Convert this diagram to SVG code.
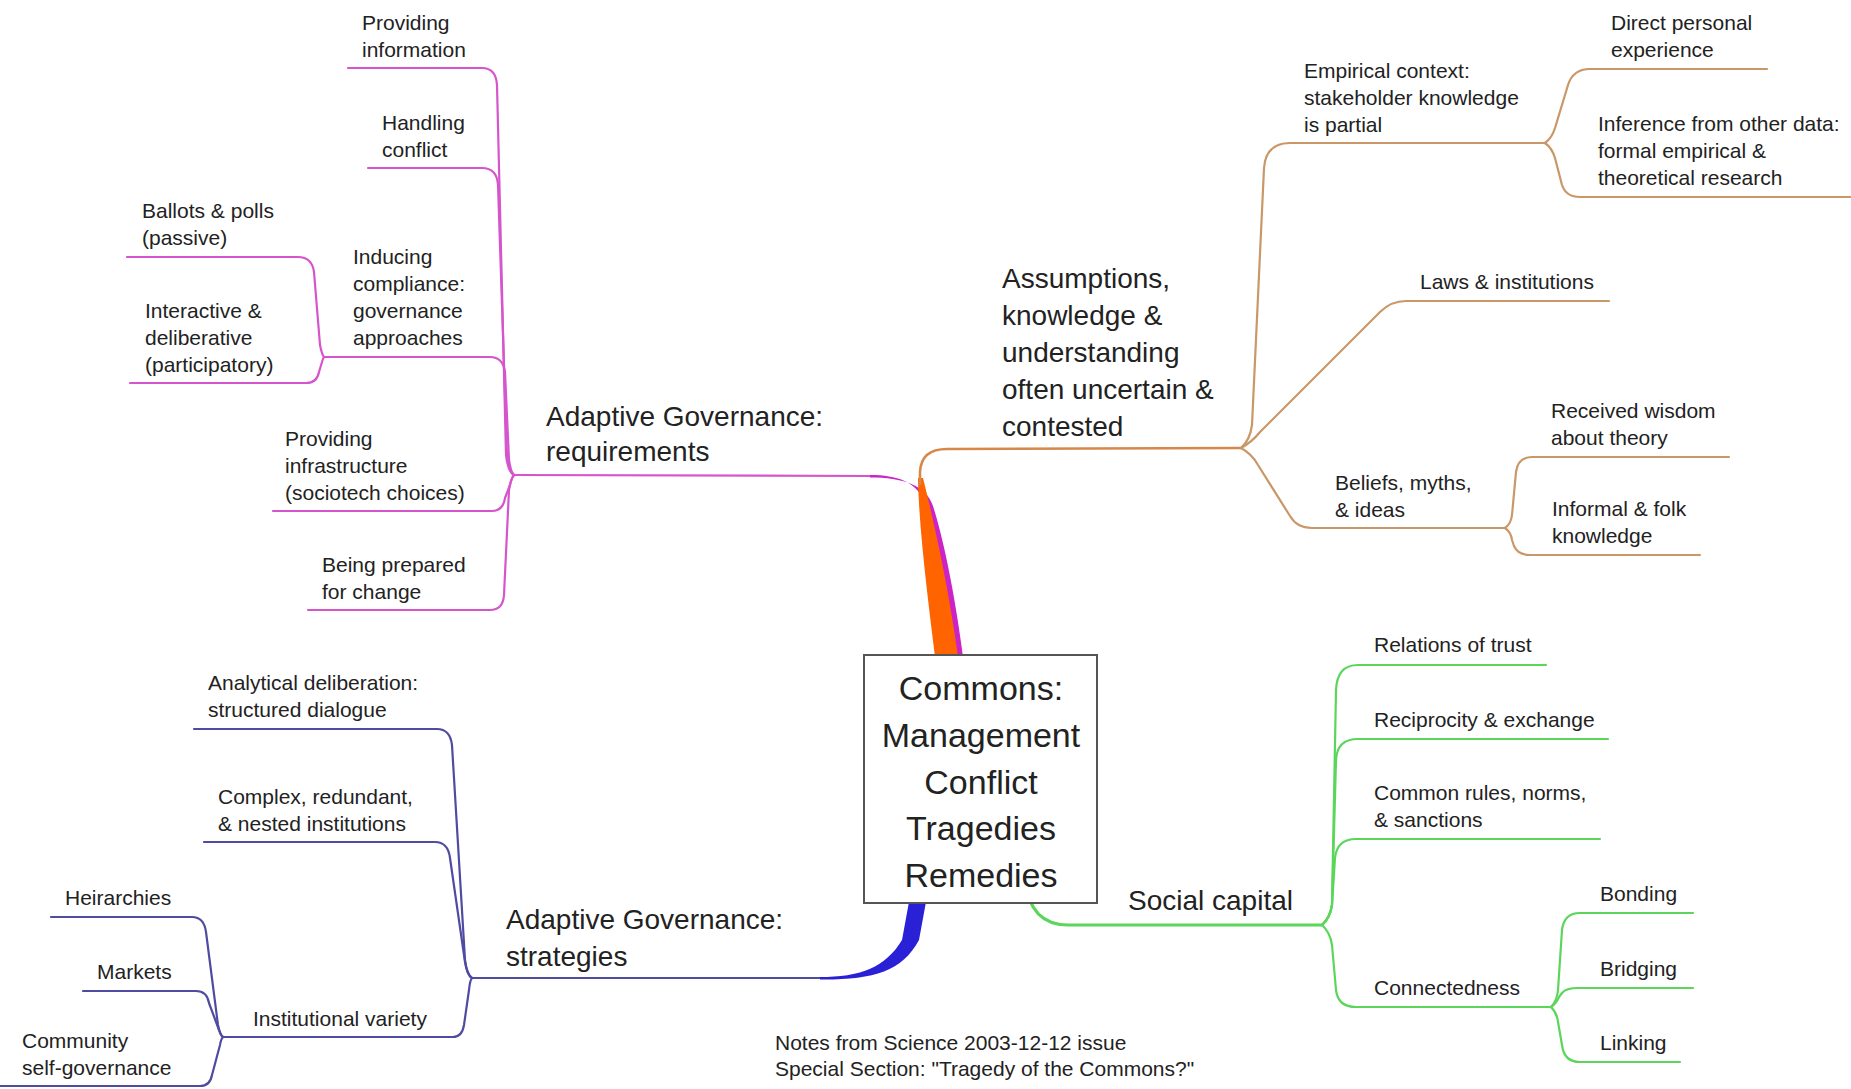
<svg xmlns="http://www.w3.org/2000/svg" width="1851" height="1089" viewBox="0 0 1851 1089">
<style>
text{font-family:"Liberation Sans",Arial,Helvetica,sans-serif;fill:#222}
.t{font-size:21px}
.big{font-size:28px}
.ctr{font-size:34px;text-anchor:middle}
.c{fill:none;stroke-width:2.2;stroke-linecap:round;stroke-linejoin:round}
.cm{stroke:#d655cc}
.co{stroke:#c99768}
.cg{stroke:#5bd65b}
.cb{stroke:#4f4ba0}
</style>
<rect width="1851" height="1089" fill="#ffffff"/>
<g id="connectors">
  <!-- magenta: requirements -->
  <path class="c cm" d="M514 475 L872 476"/>
  <path class="c cm" d="M348 68 H482 Q496 68 497 85 L506 455 Q508 472 514 475"/>
  <path class="c cm" d="M368 168 H482 Q497 168 498 185 L507 455 Q509 472 514 475"/>
  <path class="c cm" d="M324 357 H490 Q503 357 505 372 L509 460 Q511 473 514 475"/>
  <path class="c cm" d="M273 511 H492 Q503 511 505 498 L510 485 Q512 477 514 475"/>
  <path class="c cm" d="M308 610 H490 Q503 610 504 595 L509 490 Q511 478 514 475"/>
  <path class="c cm" d="M127 257 H298 Q312 257 314 272 L320 345 Q322 355 324 357"/>
  <path class="c cm" d="M130 383 H306 Q317 383 319 372 L322 362 Q323 358 324 357"/>
  <path fill="#cc22c8" d="M870 475 C898 475 915 482 924 500 L945 680 L966 680 C959 620 947 550 933 506 C926 485 903 477.5 870 477.5 Z"/>
  <!-- orange: assumptions -->
  <path fill="#ff6400" d="M918 478 C919 530 928 600 938 680 L961 680 C954 620 941 550 923 478 Z"/>
  <path class="c co" d="M920 484 L920 472 Q921 449 947 449 L1241 448" style="stroke:#d6884a;stroke-width:2.6"/>
  <path class="c co" d="M1241 448 Q1250 440 1252 425 L1264 168 Q1266 143 1290 143 H1545"/>
  <path class="c co" d="M1241 448 Q1252 442 1260 432 L1380 312 Q1391 301 1406 301 H1609"/>
  <path class="c co" d="M1241 448 Q1252 454 1258 465 L1290 516 Q1297 528 1312 528 H1505"/>
  <path class="c co" d="M1545 143 Q1552 138 1555 128 L1568 85 Q1573 69 1590 69 H1767"/>
  <path class="c co" d="M1545 143 Q1552 148 1555 158 L1562 185 Q1566 197 1580 197 H1851"/>
  <path class="c co" d="M1505 528 Q1511 524 1512 515 L1516 472 Q1518 457 1532 457 H1729"/>
  <path class="c co" d="M1505 528 Q1511 532 1512 540 L1514 546 Q1518 555 1530 555 H1700"/>
  <!-- green: social capital -->
  <path class="c cg" d="M1025 880 Q1030 925 1068 925 H1322" style="stroke-width:3"/>
  <path class="c cg" d="M1322 925 Q1330 918 1332 905 L1336 690 Q1337 665 1358 665 H1546"/>
  <path class="c cg" d="M1322 925 Q1330 918 1332 905 L1336 760 Q1337 739 1358 739 H1608"/>
  <path class="c cg" d="M1322 925 Q1330 918 1332 905 L1335 858 Q1337 839 1356 839 H1600"/>
  <path class="c cg" d="M1322 925 Q1330 932 1332 945 L1336 990 Q1338 1007 1356 1007 H1551"/>
  <path class="c cg" d="M1551 1007 Q1557 1001 1558 990 L1562 930 Q1564 913 1580 913 H1693"/>
  <path class="c cg" d="M1551 1007 Q1557 1003 1559 997 L1562 993 Q1566 988 1578 988 H1693"/>
  <path class="c cg" d="M1551 1007 Q1557 1013 1558 1022 L1562 1045 Q1564 1062 1580 1062 H1680"/>
  <!-- blue: strategies -->
  <path class="c cb" d="M472 978 H835"/>
  <path fill="#2a20d6" d="M820 977 C860 977 885 968 902 940 L913 880 L930 880 L919 940 C902 972 872 980 820 979.5 Z"/>
  <path class="c cb" d="M194 729 H437 Q450 729 452 745 L465 960 Q467 975 472 978"/>
  <path class="c cb" d="M204 842 H435 Q448 842 450 858 L465 962 Q467 975 472 978"/>
  <path class="c cb" d="M223 1037 H453 Q462 1037 464 1025 L469 990 Q470 980 472 978"/>
  <path class="c cb" d="M51 917 H192 Q204 917 206 932 L218 1025 Q220 1035 223 1037"/>
  <path class="c cb" d="M83 991 H196 Q207 991 209 1003 L219 1030 Q221 1036 223 1037"/>
  <path class="c cb" d="M0 1086 H200 Q210 1086 212 1075 L220 1045 Q221 1039 223 1037"/>
</g>
<g id="center">
  <rect x="864" y="655" width="233" height="248" fill="#ffffff" stroke="#555" stroke-width="2"/>
  <text class="ctr" x="981" y="700">Commons:</text>
  <text class="ctr" x="981" y="747">Management</text>
  <text class="ctr" x="981" y="794">Conflict</text>
  <text class="ctr" x="981" y="840">Tragedies</text>
  <text class="ctr" x="981" y="887">Remedies</text>
</g>
<g id="requirements"><text class="big" x="546" y="426">Adaptive Governance:</text><text class="big" x="546" y="461">requirements</text></g>
<g id="prov-info"><text class="t" x="362" y="30">Providing</text><text class="t" x="362" y="57">information</text></g>
<g id="handling"><text class="t" x="382" y="130">Handling</text><text class="t" x="382" y="157">conflict</text></g>
<g id="inducing"><text class="t" x="353" y="264">Inducing</text><text class="t" x="353" y="291">compliance:</text><text class="t" x="353" y="318">governance</text><text class="t" x="353" y="345">approaches</text></g>
<g id="ballots"><text class="t" x="142" y="218">Ballots &amp; polls</text><text class="t" x="142" y="245">(passive)</text></g>
<g id="interactive"><text class="t" x="145" y="318">Interactive &amp;</text><text class="t" x="145" y="345">deliberative</text><text class="t" x="145" y="372">(participatory)</text></g>
<g id="infrastructure"><text class="t" x="285" y="446">Providing</text><text class="t" x="285" y="473">infrastructure</text><text class="t" x="285" y="500">(sociotech choices)</text></g>
<g id="prepared"><text class="t" x="322" y="572">Being prepared</text><text class="t" x="322" y="599">for change</text></g>
<g id="strategies"><text class="big" x="506" y="929">Adaptive Governance:</text><text class="big" x="506" y="966">strategies</text></g>
<g id="analytical"><text class="t" x="208" y="690">Analytical deliberation:</text><text class="t" x="208" y="717">structured dialogue</text></g>
<g id="complex"><text class="t" x="218" y="804">Complex, redundant,</text><text class="t" x="218" y="831">&amp; nested institutions</text></g>
<g id="variety"><text class="t" x="253" y="1026">Institutional variety</text></g>
<g id="heirarchies"><text class="t" x="65" y="905">Heirarchies</text></g>
<g id="markets"><text class="t" x="97" y="979">Markets</text></g>
<g id="community"><text class="t" x="22" y="1048">Community</text><text class="t" x="22" y="1075">self-governance</text></g>
<g id="assumptions"><text class="big" x="1002" y="288">Assumptions,</text><text class="big" x="1002" y="325">knowledge &amp;</text><text class="big" x="1002" y="362">understanding</text><text class="big" x="1002" y="399">often uncertain &amp;</text><text class="big" x="1002" y="436">contested</text></g>
<g id="empirical"><text class="t" x="1304" y="78">Empirical context:</text><text class="t" x="1304" y="105">stakeholder knowledge</text><text class="t" x="1304" y="132">is partial</text></g>
<g id="direct"><text class="t" x="1611" y="30">Direct personal</text><text class="t" x="1611" y="57">experience</text></g>
<g id="inference"><text class="t" x="1598" y="131">Inference from other data:</text><text class="t" x="1598" y="158">formal empirical &amp;</text><text class="t" x="1598" y="185">theoretical research</text></g>
<g id="laws"><text class="t" x="1420" y="289">Laws &amp; institutions</text></g>
<g id="beliefs"><text class="t" x="1335" y="490">Beliefs, myths,</text><text class="t" x="1335" y="517">&amp; ideas</text></g>
<g id="received"><text class="t" x="1551" y="418">Received wisdom</text><text class="t" x="1551" y="445">about theory</text></g>
<g id="informal"><text class="t" x="1552" y="516">Informal &amp; folk</text><text class="t" x="1552" y="543">knowledge</text></g>
<g id="social"><text class="big" x="1128" y="910">Social capital</text></g>
<g id="trust"><text class="t" x="1374" y="652">Relations of trust</text></g>
<g id="reciprocity"><text class="t" x="1374" y="727">Reciprocity &amp; exchange</text></g>
<g id="rules"><text class="t" x="1374" y="800">Common rules, norms,</text><text class="t" x="1374" y="827">&amp; sanctions</text></g>
<g id="connectedness"><text class="t" x="1374" y="995">Connectedness</text></g>
<g id="bonding"><text class="t" x="1600" y="901">Bonding</text></g>
<g id="bridging"><text class="t" x="1600" y="976">Bridging</text></g>
<g id="linking"><text class="t" x="1600" y="1050">Linking</text></g>
<g id="notes"><text class="t" x="775" y="1050">Notes from Science 2003-12-12 issue</text><text class="t" x="775" y="1076">Special Section: "Tragedy of the Commons?"</text></g>
</svg>
